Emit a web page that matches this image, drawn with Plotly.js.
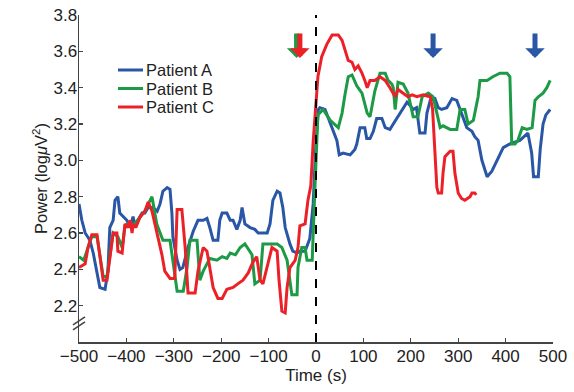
<!DOCTYPE html>
<html>
<head>
<meta charset="utf-8">
<script src="https://cdn.plot.ly/plotly-3.0.1.min.js"></script>
<style>
  html, body { margin: 0; padding: 0; background: #ffffff; }
  #chart { width: 574px; height: 392px; }
</style>
</head>
<body>
<div id="chart"></div>
<script>
// ---- Data ----
const seriesNames = ["Patient A", "Patient B", "Patient C"];

const timeA = [-500,-494,-487,-477,-470,-462,-456,-445,-439,-435,-428,-424,-418,-414,-407,-399,-392,-386,-382,-367,-361,-354,-344,-335,-329,-323,-314,-308,-304,-302,-293,-287,-281,-270,-259,-249,-238,-230,-224,-217,-207,-203,-198,-188,-181,-175,-167,-160,-156,-150,-139,-129,-122,-103,-97,-91,-82,-76,-70,-65,-55,-49,-40,-34,-23,-13,-6,0,5,
  8,19,30,36,44,49,57,72,82,86,93,103,107,114,121,128,139,146,156,163,173,184,192,199,205,212,215,219,230,234,241,251,258,265,276,287,297,304,311,318,329,335,342,350,361,371,382,395,409,430,447,455,459,469,473,479,485,494];
const powerA = [2.76,2.67,2.60,2.56,2.49,2.39,2.30,2.29,2.39,2.63,2.67,2.78,2.80,2.71,2.69,2.67,2.63,2.69,2.64,2.71,2.71,2.74,2.74,2.72,2.76,2.83,2.85,2.84,2.71,2.58,2.45,2.40,2.41,2.52,2.61,2.67,2.67,2.68,2.63,2.56,2.56,2.67,2.71,2.71,2.67,2.67,2.62,2.67,2.74,2.65,2.63,2.62,2.60,2.60,2.65,2.78,2.83,2.82,2.74,2.63,2.54,2.50,2.49,2.50,2.50,2.57,2.76,3.10,3.28,
  3.29,3.28,3.21,3.17,3.11,3.03,3.04,3.03,3.06,3.09,3.18,3.18,3.12,3.12,3.16,3.23,3.23,3.18,3.17,3.20,3.24,3.29,3.32,3.30,3.28,3.29,3.22,3.15,3.15,3.26,3.33,3.34,3.29,3.28,3.29,3.34,3.33,3.28,3.24,3.18,3.16,3.13,3.11,3.00,2.91,2.94,3.00,3.07,3.09,3.11,3.15,3.04,2.91,2.91,3.06,3.20,3.25,3.28];

const timeB = [-500,-490,-481,-473,-462,-456,-449,-441,-435,-428,-418,-409,-403,-392,-386,-371,-361,-354,-346,-336,-323,-308,-298,-293,-280,-272,-266,-251,-245,-238,-224,-209,-198,-188,-181,-170,-160,-150,-135,-129,-118,-112,-82,-72,-61,-51,-40,-38,-30,-23,-19,-8,-3,4,
  15,30,47,55,61,68,76,86,97,108,114,124,135,146,152,160,163,167,173,184,194,205,215,224,237,247,255,262,268,283,297,304,314,321,332,342,346,361,373,388,403,409,413,420,426,435,445,456,462,469,479,487,494];
const powerB = [2.47,2.45,2.52,2.58,2.58,2.48,2.36,2.36,2.46,2.60,2.58,2.52,2.64,2.66,2.64,2.69,2.72,2.76,2.80,2.65,2.56,2.56,2.39,2.28,2.28,2.41,2.56,2.56,2.34,2.39,2.46,2.45,2.47,2.46,2.49,2.48,2.52,2.54,2.48,2.32,2.34,2.54,2.54,2.52,2.45,2.26,2.26,2.41,2.52,2.52,2.45,2.45,2.80,3.25,
  3.28,3.22,3.18,3.26,3.36,3.46,3.47,3.41,3.37,3.26,3.24,3.38,3.48,3.48,3.44,3.42,3.40,3.28,3.43,3.42,3.37,3.24,3.24,3.35,3.37,3.35,3.26,3.18,3.19,3.17,3.17,3.28,3.28,3.20,3.22,3.35,3.44,3.44,3.46,3.48,3.48,3.46,3.09,3.09,3.11,3.18,3.17,3.18,3.33,3.35,3.37,3.40,3.44];

const timeC = [-500,-487,-481,-473,-462,-456,-449,-441,-435,-428,-420,-418,-409,-403,-397,-392,-388,-386,-380,-371,-361,-354,-346,-340,-333,-325,-319,-308,-298,-293,-283,-276,-270,-255,-249,-238,-230,-224,-217,-207,-198,-188,-175,-165,-154,-143,-133,-125,-118,-112,-101,-93,-82,-78,-72,-65,-61,-55,-44,-38,-34,-23,-17,-11,-6,-2,4,12,23,34,47,55,61,68,76,82,89,97,103,108,114,124,135,146,156,167,173,184,194,203,213,226,241,246,251,255,258,265,268,272,283,289,293,300,307,314,325,329,335,338];
const powerC = [2.41,2.43,2.52,2.59,2.59,2.47,2.34,2.34,2.45,2.60,2.60,2.50,2.49,2.65,2.63,2.67,2.60,2.65,2.63,2.69,2.72,2.77,2.72,2.65,2.56,2.48,2.39,2.35,2.35,2.73,2.73,2.52,2.27,2.27,2.39,2.52,2.50,2.41,2.30,2.24,2.24,2.29,2.30,2.32,2.34,2.38,2.44,2.47,2.34,2.32,2.43,2.52,2.50,2.34,2.17,2.16,2.30,2.41,2.45,2.52,2.64,2.65,2.78,2.86,3.10,3.27,3.46,3.57,3.64,3.69,3.69,3.66,3.61,3.55,3.54,3.50,3.52,3.48,3.44,3.40,3.44,3.44,3.46,3.44,3.40,3.35,3.39,3.37,3.35,3.36,3.35,3.36,3.35,3.28,3.05,2.85,2.82,2.82,2.93,3.02,3.05,3.05,2.93,2.82,2.79,2.78,2.80,2.82,2.82,2.81];

const xTicks = [-500,-400,-300,-200,-100,0,100,200,300,400,500];
const yTicks = [2.2,2.4,2.6,2.8,3.0,3.2,3.4,3.6,3.8];
const onsetTime = 0;
// Event markers (arrows) in seconds
const greenArrowTimes = [-41];
const redArrowTimes = [-34];
const blueArrowTimes = [247, 462];
const arrowTipPower = 3.563;
const axisBreakPower = 2.10;

// ---- Styles ----
const colors = ["#2a56a6", "#1d9a45", "#ec2128"];
const FONT = "Liberation Sans, Arial, sans-serif";
const TXT = "#222222";
const W = 574, H = 392;
const M = {l: 79, r: 21, t: 15, b: 50};
const PW = W - M.l - M.r, PH = H - M.t - M.b;
const px2paperX = p => (p - M.l) / PW;
const px2paperY = p => (H - M.b - p) / PH;

const traces = [
  {x: timeA, y: powerA, name: seriesNames[0]},
  {x: timeB, y: powerB, name: seriesNames[1]},
  {x: timeC, y: powerC, name: seriesNames[2]}
].map((t, i) => Object.assign(t, {
  type: "scatter", mode: "lines",
  line: {color: colors[i], width: 3},
  hoverinfo: "skip", showlegend: false
}));

function arrow(t, col) {
  return {
    x: t, y: arrowTipPower, xref: "x", yref: "y",
    text: "", showarrow: true, arrowhead: 1, arrowsize: 0.65, arrowwidth: 5,
    arrowcolor: col, ax: 0, ay: -26, standoff: 0
  };
}
const annotations = []
  .concat(greenArrowTimes.map(t => arrow(t, colors[1])))
  .concat(redArrowTimes.map(t => arrow(t, colors[2])))
  .concat(blueArrowTimes.map(t => arrow(t, colors[0])));

const axisColor = "#444444";
const shapes = [
  {type: "line", xref: "x", yref: "paper", x0: onsetTime, x1: onsetTime, y0: 0, y1: 1,
   line: {color: "#000000", width: 2, dash: "dash"}},
  {type: "line", xref: "paper", yref: "y", xsizemode: "pixel", ysizemode: "pixel",
   xanchor: 0, yanchor: axisBreakPower, x0: -6, x1: 6, y0: -6, y1: 2,
   line: {color: axisColor, width: 1.5}},
  {type: "line", xref: "paper", yref: "y", xsizemode: "pixel", ysizemode: "pixel",
   xanchor: 0, yanchor: axisBreakPower, x0: -6, x1: 6, y0: -1, y1: 7,
   line: {color: axisColor, width: 1.5}}
];

// Compact legend (line sample + label) in the upper left, like the original
const legendLeft = 118, legendLineLen = 25, legendTop = 70, legendStep = 18.5;
seriesNames.forEach((name, i) => {
  const yy = px2paperY(legendTop + i * legendStep);
  shapes.push({type: "line", xref: "paper", yref: "paper",
    x0: px2paperX(legendLeft), x1: px2paperX(legendLeft + legendLineLen), y0: yy, y1: yy,
    line: {color: colors[i], width: 3}});
  annotations.push({xref: "paper", yref: "paper", x: px2paperX(legendLeft + legendLineLen + 1), y: yy,
    xanchor: "left", yanchor: "middle", text: name, showarrow: false,
    font: {family: FONT, size: 16.5, color: TXT}});
});

const layout = {
  width: W, height: H,
  margin: M,
  paper_bgcolor: "#ffffff", plot_bgcolor: "#ffffff",
  font: {family: FONT, size: 17, color: TXT},
  showlegend: false,
  xaxis: {
    range: [-500, 500], tickvals: xTicks, ticks: "inside", ticklen: 4,
    tickcolor: axisColor, tickwidth: 1.2, showline: true, linecolor: axisColor, linewidth: 1.5,
    showgrid: false, zeroline: false, ticklabelstandoff: -2,
    title: {text: "Time (s)", font: {family: FONT, size: 17, color: TXT}, standoff: 3},
    tickfont: {family: FONT, size: 17, color: TXT}
  },
  yaxis: {
    range: [2.0, 3.8], tickvals: yTicks, tickformat: ".1f", ticks: "inside", ticklen: 4,
    tickcolor: axisColor, tickwidth: 1.2, showline: true, linecolor: axisColor, linewidth: 1.5,
    showgrid: false, zeroline: false, ticklabelstandoff: -3,
    title: {text: "Power (log<i>μ</i>V<sup>2</sup>)", font: {family: FONT, size: 16.5, color: TXT}, standoff: 1},
    tickfont: {family: FONT, size: 17, color: TXT}
  },
  shapes: shapes,
  annotations: annotations
};

Plotly.newPlot("chart", traces, layout, {displayModeBar: false, staticPlot: true});
</script>
</body>
</html>
